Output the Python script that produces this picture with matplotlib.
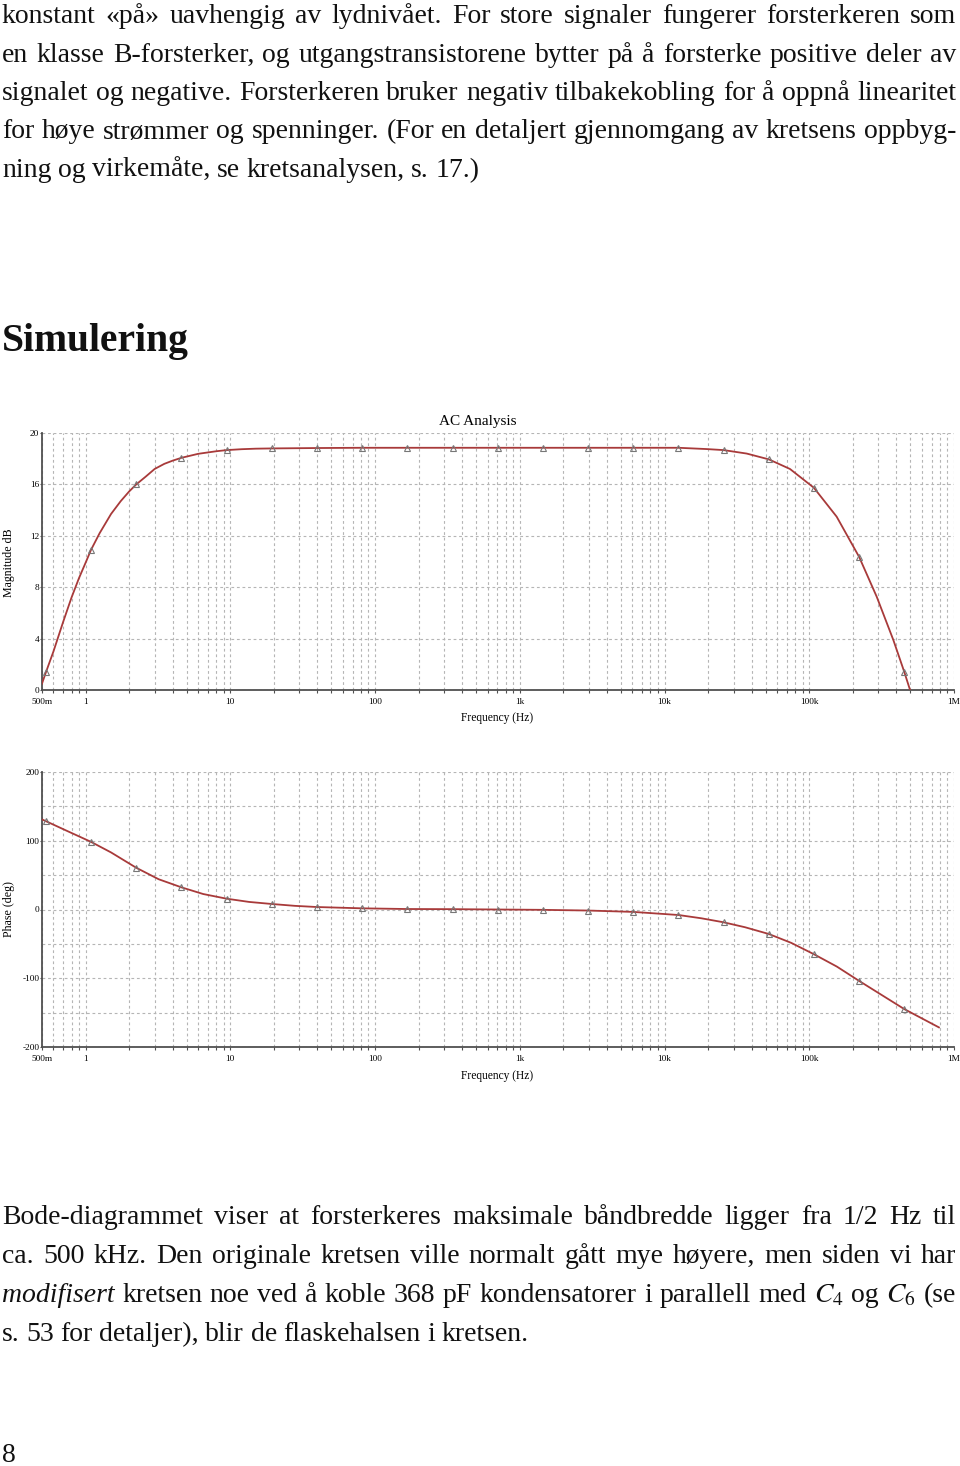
import numpy as np
import matplotlib
matplotlib.use('Agg')
import matplotlib.pyplot as plt
from matplotlib.ticker import FixedLocator, FixedFormatter, LogLocator, MultipleLocator, NullFormatter, NullLocator

plt.rcParams['mathtext.fontset'] = 'stix'
plt.rcParams['font.family'] = ['Liberation Serif', 'DejaVu Serif']
plt.rcParams['axes.unicode_minus'] = False

W, H = 960, 1466

# --- data ---
marker_freq = [0.533, 1.09, 2.24, 4.60, 9.44, 19.4, 39.7, 81.5, 167, 343, 703, 1442,
               2959, 6080, 12470, 25580, 52500, 107600, 220800, 453000]
mag_marker_db = [1.4, 10.9, 16.0, 18.07, 18.67, 18.8, 18.83, 18.85, 18.85, 18.85, 18.85,
                 18.85, 18.85, 18.85, 18.85, 18.67, 17.95, 15.74, 10.37, 1.42]
phase_marker_deg = [128.4, 98.4, 60.7, 32.2, 15.7, 8.0, 3.6, 1.7, 0.7, 0.5, 0.0, -0.5,
                    -1.5, -3.5, -8.0, -18.6, -35.6, -65.0, -103.8, -144.8]

mag_freq = [0.5, 0.533, 0.6, 0.7, 0.8, 0.9, 1.0, 1.09, 1.25, 1.5, 1.75, 2.0, 2.24, 2.6,
            3.0, 3.5, 4.0, 4.6, 6.0, 8.0, 9.44, 12, 15, 19.4, 39.7, 81.5, 167, 343, 703,
            1442, 2959, 6080, 12470, 19550, 25580, 36960, 52500, 73600, 107600, 154600,
            220800, 292400, 381000, 453000, 497000]
mag_db = [0.5, 1.4, 3.0, 5.3, 7.2, 8.7, 9.9, 10.9, 12.2, 13.7, 14.7, 15.45, 16.0, 16.6,
          17.2, 17.6, 17.85, 18.07, 18.38, 18.58, 18.67, 18.74, 18.78, 18.8, 18.83, 18.85,
          18.85, 18.85, 18.85, 18.85, 18.85, 18.85, 18.85, 18.75, 18.67, 18.4, 17.95, 17.2,
          15.74, 13.49, 10.37, 7.26, 3.89, 1.42, 0.0]

phase_freq = [0.5, 0.533, 0.75, 1.09, 1.5, 2.24, 3.2, 4.60, 6.5, 9.44, 13.5, 19.4, 28,
              39.7, 81.5, 167, 343, 703, 1442, 2959, 6080, 12470, 18000, 25580, 36000,
              52500, 75000, 107600, 155000, 220800, 453000, 787000]
phase_deg = [131, 128.4, 114, 98.4, 83, 60.7, 44, 32.2, 22.5, 15.7, 11, 8.0, 5.3,
             3.6, 1.7, 0.7, 0.5, 0.0, -0.5, -1.5, -3.5, -8.0, -12.8, -18.6, -25.8,
             -35.6, -48.5, -65.0, -83, -103.8, -144.8, -171.5]

freq_ticks = [0.5, 1, 10, 100, 1e3, 1e4, 1e5, 1e6]
freq_labels = ['500m', '1', '10', '100', '1k', '10k', '100k', '1M']
mag_ticks = [0, 4, 8, 12, 16, 20]
phase_ticks = [-200, -100, 0, 100, 200]

para1 = [
    "konstant «på» uavhengig av lydnivået. For store signaler fungerer forsterkeren som",
    "en klasse B-forsterker, og utgangstransistorene bytter på å forsterke positive deler av",
    "signalet og negative. Forsterkeren bruker negativ tilbakekobling for å oppnå linearitet",
    "for høye strømmer og spenninger. (For en detaljert gjennomgang av kretsens oppbyg-",
    "ning og virkemåte, se kretsanalysen, s. 17.)",
]
para2 = [
    "Bode-diagrammet viser at forsterkeres maksimale båndbredde ligger fra 1/2 Hz til",
    "ca. 500 kHz. Den originale kretsen ville normalt gått mye høyere, men siden vi har",
    "*modifisert kretsen noe ved å koble 368 pF kondensatorer i parallell med $C_4$ og $C_6$ (se",
    "s. 53 for detaljer), blir de flaskehalsen i kretsen.",
]

fig = plt.figure(figsize=(W / 100, H / 100), dpi=100)
renderer = fig.canvas.get_renderer()

body_fs = 20
line_col = '#a83a3a'
axis_col = '#505050'


def put_line(line, y, justify, left=2, right=956):
    texts = []
    for word in line.split(' '):
        style = 'normal'
        if word.startswith('*'):
            word, style = word[1:], 'italic'
        t = fig.text(0, 1 - y / H, word, fontsize=body_fs, style=style,
                     va='baseline', ha='left', color='#111111')
        texts.append(t)
    widths = [t.get_window_extent(renderer).width for t in texts]
    if justify and len(texts) > 1:
        gap = (right - left - sum(widths)) / (len(texts) - 1)
    else:
        gap = 6.5
    x = left
    for t, w in zip(texts, widths):
        t.set_x(x / W)
        x += w + gap


for i, line in enumerate(para1):
    put_line(line, 23 + 38.5 * i, i < len(para1) - 1)
for i, line in enumerate(para2):
    put_line(line, 1224 + 39 * i, i < len(para2) - 1)

fig.text(2 / W, 1 - 351 / H, 'Simulering', fontsize=28.5, weight='bold',
         va='baseline', ha='left', color='#111111')
fig.text(2 / W, 1 - 1462 / H, '8', fontsize=body_fs, va='baseline', ha='left', color='#111111')


def setup(ax, ylim, yticks, minor_step):
    ax.set_xscale('log')
    ax.set_xlim(0.5, 1e6)
    ax.set_ylim(*ylim)
    ax.xaxis.set_major_locator(FixedLocator(freq_ticks))
    ax.xaxis.set_major_formatter(FixedFormatter(freq_labels))
    ax.xaxis.set_minor_locator(LogLocator(base=10, subs=np.arange(2, 10), numticks=60))
    ax.xaxis.set_minor_formatter(NullFormatter())
    ax.set_yticks(yticks)
    if minor_step:
        ax.yaxis.set_minor_locator(MultipleLocator(minor_step))
    else:
        ax.yaxis.set_minor_locator(NullLocator())
    ax.grid(True, which='both', color='#b5b5b5', linestyle=(0, (2.5, 2.5)), linewidth=0.8)
    ax.set_axisbelow(True)
    for s in ['top', 'right']:
        ax.spines[s].set_visible(False)
    for s in ['left', 'bottom']:
        ax.spines[s].set_color(axis_col)
        ax.spines[s].set_linewidth(1.3)
    ax.tick_params(axis='x', which='both', direction='out', length=2.5, width=0.8,
                   color=axis_col, labelsize=6.7, pad=3)
    ax.tick_params(axis='y', which='both', direction='out', length=1.5, width=0.8,
                   color=axis_col, labelsize=6.7, pad=0.5)
    ax.tick_params(axis='y', which='minor', length=0)


ax1 = fig.add_axes([42 / W, 1 - 690 / H, 912 / W, 257 / H])
setup(ax1, (0, 20), mag_ticks, None)
ax1.plot(mag_freq, mag_db, color=line_col, lw=1.3, zorder=3)
ax1.plot(marker_freq, mag_marker_db, linestyle='none', marker='^', ms=5, mfc='none',
         mec='#777777', mew=0.8, zorder=4)

ax2 = fig.add_axes([42 / W, 1 - 1047 / H, 912 / W, 275 / H])
setup(ax2, (-200, 200), phase_ticks, 50)
ax2.plot(phase_freq, phase_deg, color=line_col, lw=1.3, zorder=3)
ax2.plot(marker_freq, phase_marker_deg, linestyle='none', marker='^', ms=5, mfc='none',
         mec='#777777', mew=0.8, zorder=4)

fig.text(478 / W, 1 - 421 / H, 'AC Analysis', fontsize=11, ha='center', va='center')
fig.text(497.5 / W, 1 - 718 / H, 'Frequency (Hz)', fontsize=8.3, ha='center', va='center')
fig.text(9 / W, 1 - 563 / H, 'Magnitude dB', fontsize=8.6, rotation=90, ha='center', va='center')
fig.text(497.5 / W, 1 - 1076 / H, 'Frequency (Hz)', fontsize=8.3, ha='center', va='center')
fig.text(9 / W, 1 - 909 / H, 'Phase (deg)', fontsize=8.6, rotation=90, ha='center', va='center')

fig.savefig('out.png', dpi=100, facecolor='white')
